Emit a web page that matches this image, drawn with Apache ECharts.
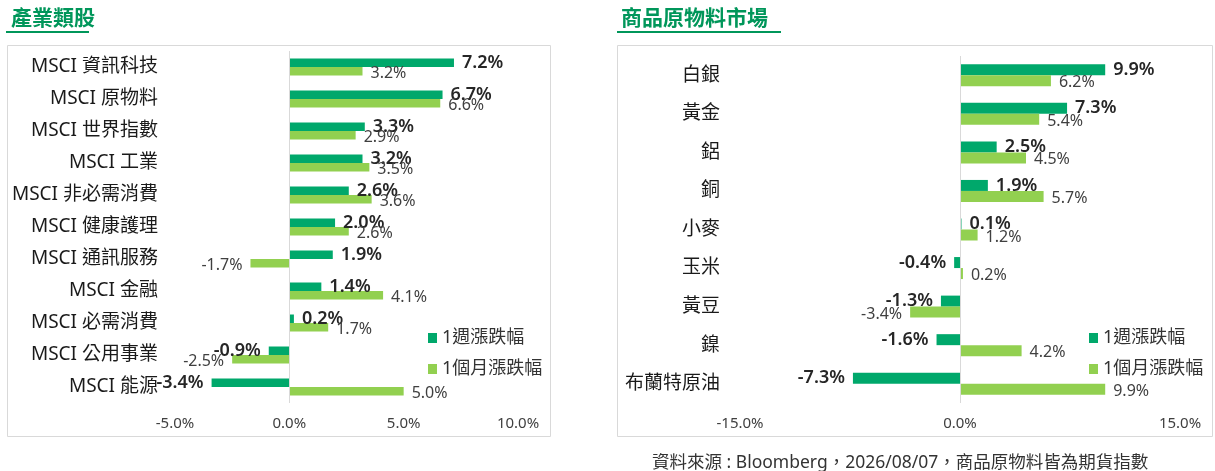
<!DOCTYPE html>
<html lang="zh-Hant">
<head>
<meta charset="UTF-8">
<title>產業類股 / 商品原物料市場</title>
<script src="https://cdn.jsdelivr.net/npm/echarts@6/dist/echarts.min.js"></script>
<style>
  html, body { margin: 0; padding: 0; background: #fff; }
  #main { width: 1215px; height: 471px; }
</style>
</head>
<body>
<div id="main"></div>
<script>
// 產業類股
var sectorNames = ['MSCI 資訊科技', 'MSCI 原物料', 'MSCI 世界指數', 'MSCI 工業', 'MSCI 非必需消費',
  'MSCI 健康護理', 'MSCI 通訊服務', 'MSCI 金融', 'MSCI 必需消費', 'MSCI 公用事業', 'MSCI 能源'];
var sectorWeek = [7.2, 6.7, 3.3, 3.2, 2.6, 2.0, 1.9, 1.4, 0.2, -0.9, -3.4];
var sectorMonth = [3.2, 6.6, 2.9, 3.5, 3.6, 2.6, -1.7, 4.1, 1.7, -2.5, 5.0];
var sectorTicks = [-5, 0, 5, 10];

// 商品原物料市場
var commodityNames = ['白銀', '黃金', '鋁', '銅', '小麥', '玉米', '黃豆', '鎳', '布蘭特原油'];
var commodityWeek = [9.9, 7.3, 2.5, 1.9, 0.1, -0.4, -1.3, -1.6, -7.3];
var commodityMonth = [6.2, 5.4, 4.5, 5.7, 1.2, 0.2, -3.4, 4.2, 9.9];
var commodityTicks = [-15, 0, 15];

var seriesNames = ['1週漲跌幅', '1個月漲跌幅'];

var FONT = '"Noto Sans", "Noto Sans CJK TC", sans-serif';
var DARK = '#00a86b';
var LIGHT = '#92d050';

function pct(v) { return v.toFixed(1) + '%'; }

// 正值標籤放右邊，負值放左邊
function withLabels(arr) {
  return arr.map(function (v) {
    return { value: v, label: { position: v < 0 ? 'left' : 'right' } };
  });
}

function xAxisFor(idx, ticks) {
  return {
    type: 'value', gridIndex: idx,
    min: ticks[0], max: ticks[ticks.length - 1], interval: ticks[1] - ticks[0],
    axisLine: { show: false }, axisTick: { show: false }, splitLine: { show: false },
    axisLabel: { formatter: pct, color: '#404040', fontSize: 15, fontFamily: FONT, margin: 13 }
  };
}

function yAxisFor(idx, names, margin) {
  return {
    type: 'category', gridIndex: idx, data: names, inverse: true,
    axisLine: { show: false, onZero: false }, axisTick: { show: false },
    axisLabel: { color: '#1a1a1a', fontSize: 19, fontFamily: FONT, margin: margin }
  };
}

function barSeries(name, idx, values, color, bw, week) {
  var s = {
    name: name, type: 'bar', xAxisIndex: idx, yAxisIndex: idx,
    barWidth: bw, barGap: '0%',
    itemStyle: { color: color },
    label: {
      show: true, distance: 8, formatter: function (p) { return pct(p.value); },
      fontFamily: FONT,
      color: week ? '#262626' : '#404040',
      fontSize: week ? 18 : 16,
      fontWeight: week ? 600 : 'normal',
      offset: week ? [0, 0] : [0, 2]
    },
    emphasis: { disabled: true },
    data: withLabels(values)
  };
  if (week) {
    s.markLine = {
      silent: true, symbol: 'none',
      label: { show: false },
      lineStyle: { color: '#d9d9d9', type: 'solid', width: 1 },
      data: [{ xAxis: 0 }]
    };
  }
  return s;
}

function legendFor(left) {
  return {
    orient: 'vertical', left: left, top: 324, itemGap: 13,
    itemWidth: 9, itemHeight: 10, icon: 'rect',
    textStyle: { color: '#333', fontSize: 18, fontFamily: FONT },
    data: seriesNames, selectedMode: false
  };
}

var myChart = echarts.init(document.getElementById('main'));
var option = {
  animation: false,
  title: [
    { text: '產業類股', left: 6, top: 4, textStyle: { color: '#00965a', fontSize: 21, fontWeight: 'bold', fontFamily: FONT } },
    { text: '商品原物料市場', left: 616, top: 4, textStyle: { color: '#00965a', fontSize: 21, fontWeight: 'bold', fontFamily: FONT } },
    { text: '資料來源 : Bloomberg，2026/08/07，商品原物料皆為期貨指數', left: 647, top: 449,
      textStyle: { color: '#333', fontSize: 17.5, fontWeight: 'normal', fontFamily: FONT } }
  ],
  graphic: [
    { type: 'rect', shape: { x: 7.5, y: 45.5, width: 543, height: 391 }, style: { fill: 'none', stroke: '#d9d9d9', lineWidth: 1 } },
    { type: 'rect', shape: { x: 617.5, y: 45.5, width: 595, height: 391 }, style: { fill: 'none', stroke: '#d9d9d9', lineWidth: 1 } },
    { type: 'line', shape: { x1: 6, y1: 32, x2: 89, y2: 32 }, style: { stroke: '#00965a', lineWidth: 2 } },
    { type: 'line', shape: { x1: 617, y1: 32, x2: 781, y2: 32 }, style: { stroke: '#00965a', lineWidth: 2 } }
  ],
  legend: [legendFor(423), legendFor(1084)],
  grid: [
    { left: 175, right: 697, top: 51, height: 352 },
    { left: 740, right: 35, top: 56, height: 347 }
  ],
  xAxis: [xAxisFor(0, sectorTicks), xAxisFor(1, commodityTicks)],
  yAxis: [yAxisFor(0, sectorNames, 17), yAxisFor(1, commodityNames, 20)],
  series: [
    barSeries(seriesNames[0], 0, sectorWeek, DARK, 8.5, true),
    barSeries(seriesNames[1], 0, sectorMonth, LIGHT, 8.5, false),
    barSeries(seriesNames[0], 1, commodityWeek, DARK, 11, true),
    barSeries(seriesNames[1], 1, commodityMonth, LIGHT, 11, false)
  ]
};
myChart.setOption(option);
</script>
</body>
</html>
